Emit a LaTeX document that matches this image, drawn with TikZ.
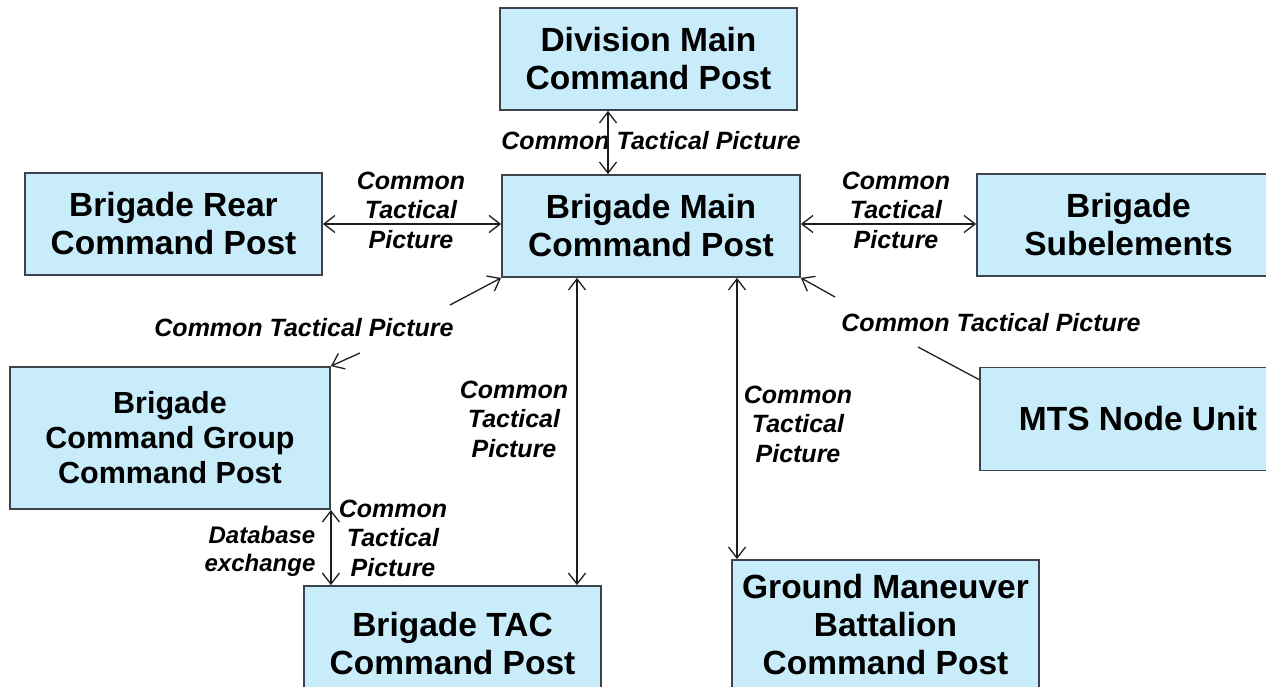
\documentclass[tikz,border=0pt]{standalone}
\usepackage{fontspec}
\setmainfont{Liberation Sans}
\usetikzlibrary{arrows.meta}
\definecolor{boxblue}{RGB}{200,236,250}
\definecolor{boxline}{RGB}{58,68,74}
\definecolor{arrcol}{RGB}{30,30,30}
\tikzset{
  box/.style={draw=boxline, line width=1.8pt, fill=boxblue, align=center, inner sep=0pt,
    font=\bfseries\fontsize{33.5}{38}\selectfont},
  lab/.style={align=center, inner sep=0pt, font=\bfseries\itshape\fontsize{25}{29.5}\selectfont},
  conn/.style={draw=arrcol, line width=1.3pt},
  tip/.style={conn, -{Straight Barb[length=11pt,width=17pt,line width=1.3pt]}},
  tips/.style={conn, {Straight Barb[length=11pt,width=17pt,line width=1.3pt]}-{Straight Barb[length=11pt,width=17pt,line width=1.3pt]}}
}
\begin{document}
\begin{tikzpicture}[x=1pt,y=-1pt]
\useasboundingbox (0,0) rectangle (1266,687);
\clip (0,0) rectangle (1266,687);
\fill[white] (0,0) rectangle (1266,687);
% boxes
\node[box, minimum width=297pt, minimum height=102pt] (div) at (648.5,59) {Division Main\\Command Post};
\node[box, minimum width=298pt, minimum height=102pt] (main) at (651,226) {Brigade Main\\Command Post};
\node[box, minimum width=297pt, minimum height=102pt] (rear) at (173.5,224) {Brigade Rear\\Command Post};
\node[box, minimum width=303pt, minimum height=102pt] (sub) at (1128.5,225) {Brigade\\Subelements};
\node[box, minimum width=316pt, minimum height=103pt] (mts) at (1138,419) {MTS Node Unit};
\node[box, minimum width=320pt, minimum height=142pt, font=\bfseries\fontsize{30.5}{35}\selectfont] (cg) at (170,438) {Brigade\\Command Group\\Command Post};
\node[box, minimum width=297pt, minimum height=116pt] (tac) at (452.5,644) {Brigade TAC\\Command Post};
\node[box, minimum width=307pt, minimum height=130pt] (gm) at (885.5,625) {Ground Maneuver\\Battalion\\Command Post};
% labels
\node[lab] (l1) at (651,141) {Common Tactical Picture};
\node[lab] (l2) at (411,210) {Common\\Tactical\\Picture};
\node[lab] (l3) at (896,210) {Common\\Tactical\\Picture};
\node[lab] (l4) at (304,328) {Common Tactical Picture};
\node[lab] (l5) at (991,323) {Common Tactical Picture};
\node[lab] (l6) at (514,419) {Common\\Tactical\\Picture};
\node[lab] (l7) at (798,424) {Common\\Tactical\\Picture};
\node[lab, align=right, font=\bfseries\itshape\fontsize{24}{28}\selectfont] (l8) at (260,551) {Database\\exchange};
\node[lab] (l9) at (393,538) {Common\\Tactical\\Picture};
% connector helper coordinates
\coordinate (ll1) at (450,305);
\coordinate (ll2) at (360,353);
\coordinate (rl1) at (835,297);
\coordinate (rl2) at (918,347);
% connectors
\draw[tips] ([xshift=-43pt]main.north |- div.south) -- ([xshift=-43pt]main.north);
\draw[tips] (rear.east) -- (rear.east -| main.west);
\draw[tips] (main.east |- rear.east) -- (main.east |- rear.east -| sub.west);
\draw[tips] ([xshift=-74pt]main.south) -- ([xshift=-74pt]main.south |- tac.north);
\draw[tips] ([xshift=86pt]main.south) -- ([xshift=86pt]main.south |- gm.north);
\draw[tips] (cg.south east) -- (cg.south east |- tac.north);
\draw[tip] (ll1) -- (main.south west);
\draw[tip] (ll2) -- (cg.north east);
\draw[tip] (rl1) -- (main.south east);
\draw[conn] (rl2) -- ([yshift=-13pt]mts.north west);
\end{tikzpicture}
\end{document}
